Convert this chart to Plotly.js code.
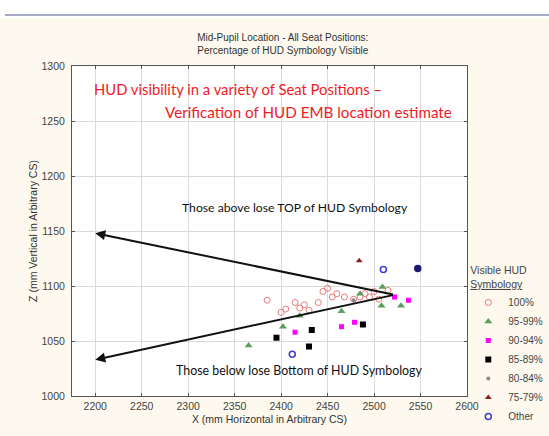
<!DOCTYPE html>
<html>
<head>
<meta charset="utf-8">
<script src="https://cdn.plot.ly/plotly-3.0.1.min.js"></script>
<style>html,body{margin:0;padding:0;background:#fff;}#chart{width:549px;height:436px;}</style>
</head>
<body>
<div id="chart"></div>
<script>
// ---- data ----
const seriesNames = ['100%', '95-99%', '90-94%', '85-89%', '80-84%', '75-79%', 'Other'];

const x100 = [2385, 2400, 2405, 2415, 2420, 2425, 2430, 2440, 2445, 2450, 2455, 2460, 2468, 2478, 2485, 2490, 2495, 2500, 2505, 2515];
const y100 = [1087, 1076, 1079, 1085, 1080, 1083, 1078, 1085, 1095, 1098, 1090, 1093, 1090, 1088, 1090, 1093, 1090, 1095, 1088, 1096];

const x95 = [2365, 2402, 2420, 2465, 2485, 2509, 2508, 2529];
const y95 = [1046, 1063, 1073, 1077, 1093, 1099, 1082, 1082];

const x90 = [2415, 2465, 2479, 2522, 2537];
const y90 = [1058, 1063, 1067, 1090, 1087];

const x85 = [2395, 2433, 2430, 2488];
const y85 = [1053, 1060, 1045, 1065];

const x80 = [2478];
const y80 = [1087];

const x75 = [2484];
const y75 = [1123];

const xOther = [2510, 2412, 2547];
const yOther = [1115, 1038, 1116];

const xTicks = [2200, 2250, 2300, 2350, 2400, 2450, 2500, 2550, 2600];
const yTicks = [1000, 1050, 1100, 1150, 1200, 1250, 1300];

// arrows: common tail (vertex) and two heads
const arrowTail = [2522, 1092];
const arrowHeadsX = [2200, 2200];
const arrowHeadsY = [1148, 1033];

// ---- styles ----
const styles = [
  {symbol: 'circle-open', color: '#e87a7a', size: 6, lw: 1},
  {symbol: 'triangle-up', color: '#5c9e5c', size: 7, lw: 0},
  {symbol: 'square', color: '#ff00ff', size: 5, lw: 0},
  {symbol: 'square', color: '#000000', size: 6, lw: 0},
  {symbol: 'circle', color: '#888888', size: 4, lw: 0},
  {symbol: 'triangle-up', color: '#8b1c1c', size: 6, lw: 0},
  {symbol: ['circle-open', 'circle-open', 'circle'], color: ['#3b3bd6', '#3b3bd6', '#1a1a70'], size: 6, lw: 1.5}
];
const xs = [x100, x95, x90, x85, x80, x75, xOther];
const ys = [y100, y95, y90, y85, y80, y75, yOther];

const traces = seriesNames.map((name, i) => ({
  type: 'scatter', mode: 'markers', name: name,
  x: xs[i], y: ys[i],
  marker: {symbol: styles[i].symbol, color: styles[i].color, size: styles[i].size,
           line: {width: styles[i].lw, color: styles[i].color}},
  cliponaxis: false
}));

const fontMain = 'Liberation Sans, Arial, sans-serif';
const fontCal = 'Lato, Open Sans, sans-serif';

const annotations = [
  {xref: 'x', yref: 'y', x: 2196, y: 1279, xanchor: 'left', yanchor: 'middle', showarrow: false,
   text: 'HUD visibility in a variety of Seat Positions \u2013', font: {family: fontCal, size: 14.8, color: '#ee1c24'}},
  {xref: 'x', yref: 'y', x: 2273, y: 1258, xanchor: 'left', yanchor: 'middle', showarrow: false,
   text: 'Verification of HUD EMB location estimate', font: {family: fontCal, size: 15.2, color: '#ee1c24'}},
  {xref: 'x', yref: 'y', x: 2415, y: 1171, xanchor: 'center', yanchor: 'middle', showarrow: false,
   text: 'Those above lose TOP of HUD Symbology', font: {family: fontCal, size: 12.2, color: '#111'}},
  {xref: 'x', yref: 'y', x: 2420, y: 1023, xanchor: 'center', yanchor: 'middle', showarrow: false,
   text: 'Those below lose Bottom of HUD Symbology', font: {family: fontCal, size: 12.4, color: '#111'}}
];
arrowHeadsX.forEach((hx, i) => {
  annotations.push({xref: 'x', yref: 'y', axref: 'x', ayref: 'y',
    x: hx, y: arrowHeadsY[i], ax: arrowTail[0], ay: arrowTail[1],
    text: '', showarrow: true, arrowhead: 2, arrowsize: 1, arrowwidth: 2, arrowcolor: '#111'});
});

const layout = {
  width: 549, height: 436,
  paper_bgcolor: '#fdf9ee', plot_bgcolor: '#ffffff',
  margin: {l: 72, r: 82, t: 66, b: 40},
  font: {family: fontMain, color: '#444', size: 10},
  title: {text: 'Mid-Pupil Location - All Seat Positions:<br>Percentage of HUD Symbology Visible',
          font: {family: fontMain, size: 10, color: '#333'},
          x: 0.515, xref: 'container', xanchor: 'center', y: 0.905, yref: 'container', yanchor: 'top'},
  xaxis: {range: [2175, 2600], tickvals: xTicks, showgrid: true, gridcolor: '#d9d9d9', gridwidth: 1,
          showline: true, linecolor: '#555', linewidth: 1, mirror: 'ticks', ticks: 'inside', ticklen: 3, tickcolor: '#555',
          zeroline: false, tickfont: {size: 10.5, color: '#444'},
          title: {text: 'X (mm Horizontal in Arbitrary CS)', font: {size: 10.5, color: '#333'}, standoff: 5}},
  yaxis: {range: [1000, 1300], tickvals: yTicks, showgrid: true, gridcolor: '#d9d9d9', gridwidth: 1,
          showline: true, linecolor: '#555', linewidth: 1, mirror: 'ticks', ticks: 'inside', ticklen: 3, tickcolor: '#555',
          zeroline: false, tickfont: {size: 10.5, color: '#444'}, ticklabelstandoff: 4,
          title: {text: 'Z (mm Vertical in Arbitrary CS)', font: {size: 10.5, color: '#333'}, standoff: 1}},
  showlegend: true,
  legend: {x: 0.853, xanchor: 'left', xref: 'container', y: 0.01, yanchor: 'bottom', yref: 'container', bgcolor: 'rgba(0,0,0,0)',
           title: {text: 'Visible HUD<br><u>Symbology</u>', font: {size: 10.5, color: '#444'}},
           font: {size: 10, color: '#444'}, itemwidth: 30, tracegroupgap: 0},
  shapes: [
    {type: 'rect', xref: 'paper', yref: 'paper', x0: -0.2, x1: 1.25, y0: 1.145, y1: 1.21, fillcolor: '#ffffff', line: {width: 0}, layer: 'above'},
    {type: 'line', xref: 'paper', yref: 'paper', x0: -0.1696, x1: 1.25, y0: 1.1545, y1: 1.1545, line: {color: '#8a8fb5', width: 1.5}, layer: 'above'}
  ],
  annotations: annotations
};

Plotly.newPlot('chart', traces, layout, {displayModeBar: false, staticPlot: true});
</script>
</body>
</html>
